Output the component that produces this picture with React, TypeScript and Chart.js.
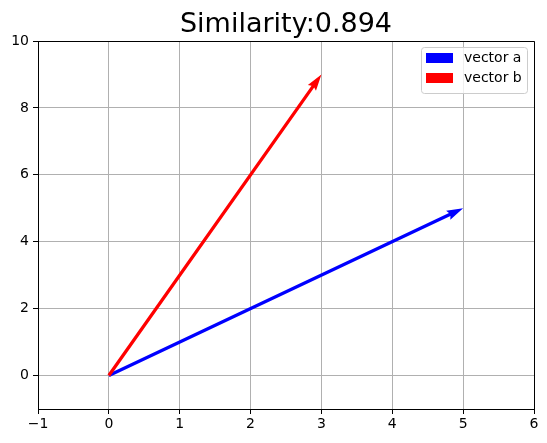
import React, { useEffect, useRef } from "react";
import { Chart, registerables } from "chart.js";

Chart.register(...registerables);

// vectors drawn from the origin
const vectorA = [5, 5];
const vectorB = [3, 9];
const labels = ["vector a", "vector b"];
const colors = ["#0000ff", "#ff0000"];
const xTicks = [-1, 0, 1, 2, 3, 4, 5, 6];
const yTicks = [0, 2, 4, 6, 8, 10];

const FONT = "'DejaVu Sans', sans-serif";

const dot = (a: number[], b: number[]) => a[0] * b[0] + a[1] * b[1];
const similarity = dot(vectorA, vectorB) / Math.sqrt(dot(vectorA, vectorA) * dot(vectorB, vectorB));
const titleText = `Similarity:${similarity.toFixed(3)}`;

// matplotlib writes negatives with a real minus sign
const fmt = (v: number) => (v < 0 ? "\u2212" + Math.abs(v) : String(v));

// draws shaft + head of each vector, matplotlib quiver style
const arrowPlugin = {
    id: "arrows",
    afterDatasetsDraw(chart: any) {
        const { ctx, scales } = chart;
        const w = 3.3;
        chart.data.datasets.forEach((ds: any) => {
            const [p0, p1] = ds.data;
            const x0 = scales.x.getPixelForValue(p0.x);
            const y0 = scales.y.getPixelForValue(p0.y);
            const x1 = scales.x.getPixelForValue(p1.x);
            const y1 = scales.y.getPixelForValue(p1.y);
            const ang = Math.atan2(y1 - y0, x1 - x0);
            const ux = Math.cos(ang), uy = Math.sin(ang);
            const nx = -uy, ny = ux;
            const headLen = 5 * w, headAxis = 4.5 * w, headHalf = 1.5 * w;
            ctx.save();
            ctx.fillStyle = ds.borderColor;
            ctx.beginPath();
            ctx.moveTo(x0 + nx * w / 2, y0 + ny * w / 2);
            ctx.lineTo(x1 - ux * headAxis + nx * w / 2, y1 - uy * headAxis + ny * w / 2);
            ctx.lineTo(x1 - ux * headLen + nx * headHalf, y1 - uy * headLen + ny * headHalf);
            ctx.lineTo(x1, y1);
            ctx.lineTo(x1 - ux * headLen - nx * headHalf, y1 - uy * headLen - ny * headHalf);
            ctx.lineTo(x1 - ux * headAxis - nx * w / 2, y1 - uy * headAxis - ny * w / 2);
            ctx.lineTo(x0 - nx * w / 2, y0 - ny * w / 2);
            ctx.closePath();
            ctx.fill();
            ctx.restore();
        });
    },
    afterDraw(chart: any) {
        const { ctx, chartArea } = chart;
        ctx.save();

        // title, centred over the axes
        ctx.fillStyle = "#000";
        ctx.font = `27px ${FONT}`;
        ctx.textAlign = "center";
        ctx.textBaseline = "alphabetic";
        ctx.fillText(titleText, (chartArea.left + chartArea.right) / 2, 32);

        // top and right spines
        ctx.strokeStyle = "#000";
        ctx.lineWidth = 1;
        ctx.beginPath();
        ctx.moveTo(chartArea.left, chartArea.top + 0.5);
        ctx.lineTo(chartArea.right + 0.5, chartArea.top + 0.5);
        ctx.lineTo(chartArea.right + 0.5, chartArea.bottom);
        ctx.stroke();

        // legend box, upper right
        const bw = 106, bh = 46;
        const bx = chartArea.right - 7 - bw, by = chartArea.top + 6;
        ctx.fillStyle = "rgba(255,255,255,0.8)";
        ctx.strokeStyle = "#cccccc";
        ctx.beginPath();
        ctx.roundRect(bx + 0.5, by + 0.5, bw, bh, 3);
        ctx.fill();
        ctx.stroke();
        ctx.font = `14px ${FONT}`;
        ctx.textAlign = "left";
        ctx.textBaseline = "middle";
        chart.data.datasets.forEach((ds: any, i: number) => {
            const cy = by + 11 + i * 20;
            ctx.fillStyle = ds.borderColor;
            ctx.fillRect(bx + 5, cy - 5, 27, 10);
            ctx.fillStyle = "#000";
            ctx.fillText(ds.label, bx + 43, cy);
        });
        ctx.restore();
    },
};

const VectorChart: React.FC = () => {
    const chartRef = useRef<HTMLCanvasElement | null>(null);
    const chartInstance = useRef<Chart | null>(null);

    useEffect(() => {
        document.body.style.margin = "0";
        const ctx = chartRef.current?.getContext("2d");
        if (!ctx) return;

        chartInstance.current = new Chart(ctx, {
            type: "scatter",
            data: {
                datasets: [vectorA, vectorB].map((v, i) => ({
                    label: labels[i],
                    data: [{ x: 0, y: 0 }, { x: v[0], y: v[1] }],
                    borderColor: colors[i],
                    backgroundColor: colors[i],
                    showLine: false,
                    pointRadius: 0,
                })),
            },
            options: {
                animation: false,
                responsive: true,
                maintainAspectRatio: false,
                devicePixelRatio: 1,
                layout: { padding: { top: 41, right: 13, bottom: 0, left: 0 } },
                plugins: {
                    legend: { display: false },
                    tooltip: { enabled: false },
                    title: { display: false },
                },
                scales: {
                    x: {
                        type: "linear",
                        min: -1,
                        max: 6,
                        afterBuildTicks: (scale: any) => {
                            scale.ticks = xTicks.map((value) => ({ value }));
                        },
                        afterFit: (scale: any) => {
                            scale.height = 34;
                        },
                        ticks: {
                            color: "#000",
                            font: { family: FONT, size: 14 },
                            padding: 2,
                            callback: (v: any) => fmt(Number(v)),
                        },
                        grid: { color: "#b0b0b0", lineWidth: 1, tickColor: "#000", tickLength: 5 },
                        border: { display: true, color: "#000", width: 1 },
                    },
                    y: {
                        type: "linear",
                        min: -1,
                        max: 10,
                        afterBuildTicks: (scale: any) => {
                            scale.ticks = yTicks.map((value) => ({ value }));
                        },
                        afterFit: (scale: any) => {
                            scale.width = 38;
                        },
                        ticks: {
                            color: "#000",
                            font: { family: FONT, size: 14 },
                            padding: 4,
                            callback: (v: any) => fmt(Number(v)),
                        },
                        grid: { color: "#b0b0b0", lineWidth: 1, tickColor: "#000", tickLength: 5 },
                        border: { display: true, color: "#000", width: 1 },
                    },
                },
            },
            plugins: [arrowPlugin],
        });

        return () => {
            if (chartInstance.current) {
                chartInstance.current.destroy();
            }
        };
    }, []);

    return (
        <div style={{ width: "547px", height: "443px", position: "relative" }}>
            <canvas ref={chartRef}></canvas>
        </div>
    );
};

export default function App() {
    return <VectorChart />;
}
